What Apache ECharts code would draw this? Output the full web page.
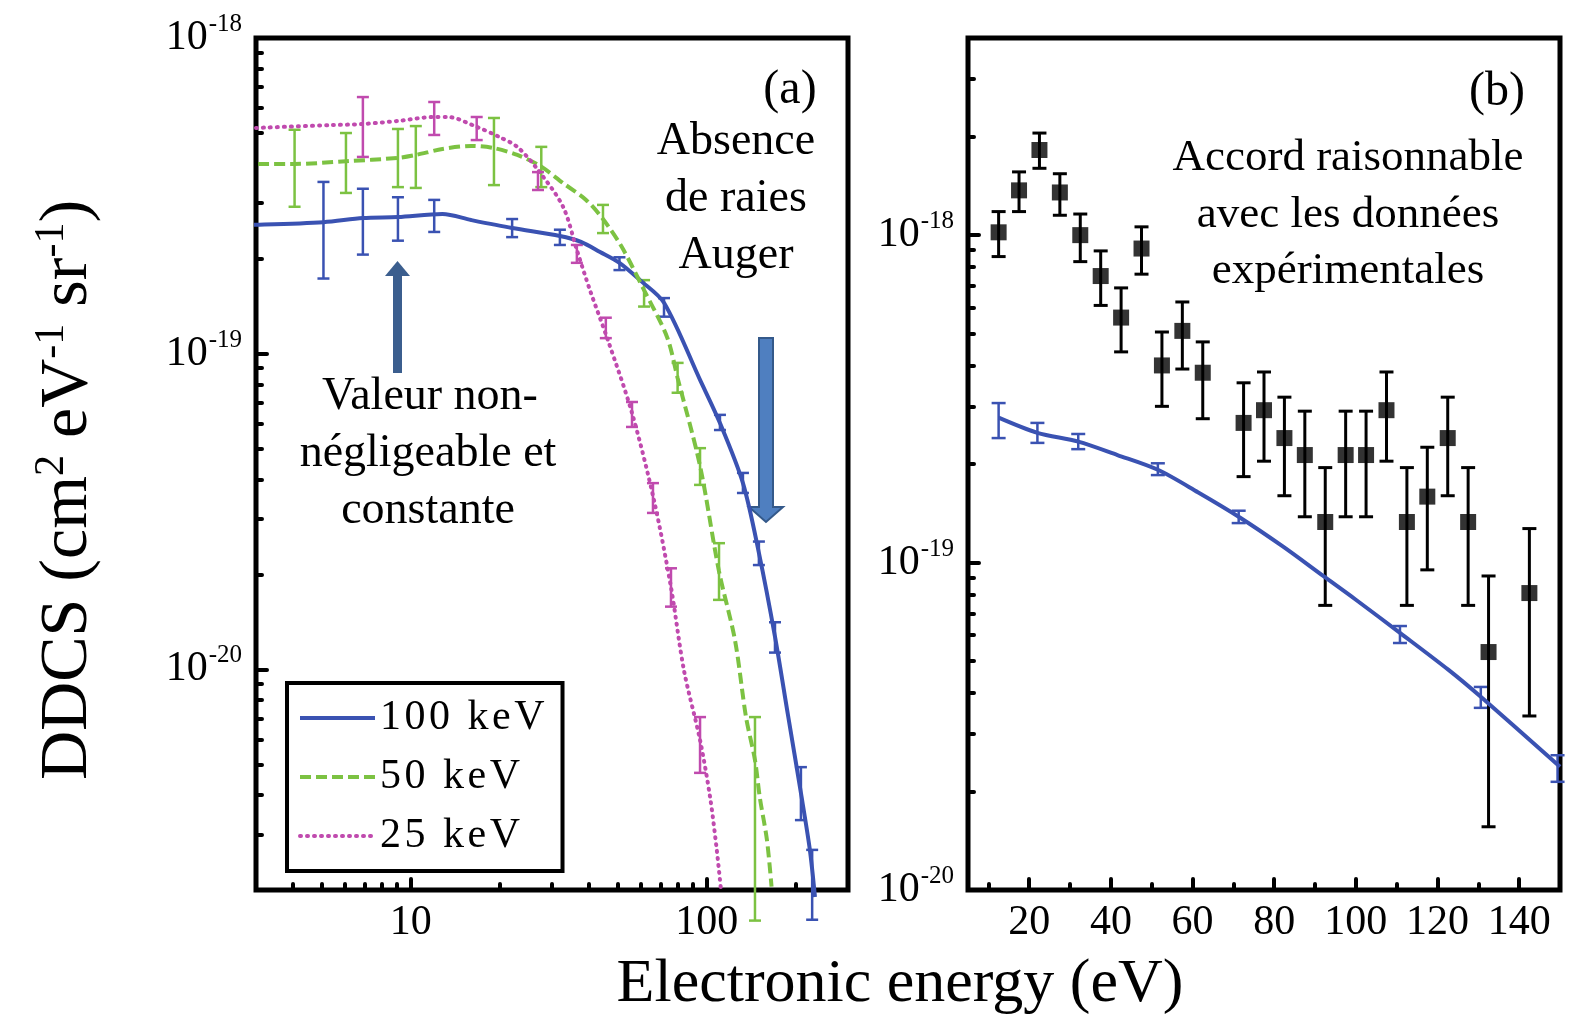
<!DOCTYPE html>
<html><head><meta charset="utf-8">
<script src="https://cdn.jsdelivr.net/npm/echarts@6/dist/echarts.min.js"></script>
<style>html,body{margin:0;padding:0;background:#fff}#c{width:1573px;height:1022px}</style>
</head><body><div id="c"></div><script>
// ---------- Panel (a): theoretical DDCS, log-log ----------
// curves: [electron energy (eV), DDCS (cm2 eV-1 sr-1)]
const curve100 = [[2.02,2.54e-19],[3,2.56e-19],[5.07,2.61e-19],[6.89,2.69e-19],[9.05,2.71e-19],[12.8,2.77e-19],[16,2.65e-19],[22,2.50e-19],[31.9,2.36e-19],[37.6,2.26e-19],[43.6,2.10e-19],[50.7,1.94e-19],[59.5,1.71e-19],[71.7,1.45e-19],[94.9,8.26e-20],[110.8,6.03e-20],[132.5,3.89e-20],[150,2.34e-20],[170,1.27e-20],[188,7.18e-21],[208,4.06e-21],[223,2.68e-21],[232,1.90e-21]];
const curve50 = [[3.05,3.99e-19],[4.05,3.99e-19],[6.04,4.07e-19],[9.05,4.17e-19],[10.4,4.26e-19],[12.8,4.45e-19],[16,4.55e-19],[19.1,4.48e-19],[22.9,4.26e-19],[27.3,3.94e-19],[32.7,3.47e-19],[39.1,3.07e-19],[44.6,2.67e-19],[51.6,2.18e-19],[61.4,1.59e-19],[73.4,1.13e-19],[79.7,8.38e-20],[94.9,4.41e-20],[109.9,2.05e-20],[124.5,1.24e-20],[135.7,7.06e-21],[145.5,5.16e-21],[151,3.94e-21],[159.7,2.88e-21],[165.5,2.05e-21]];
const curve25 = [[3.0,5.19e-19],[5.46,5.30e-19],[6.89,5.34e-19],[9.05,5.46e-19],[12.0,5.62e-19],[13.35,5.62e-19],[16.7,5.23e-19],[19.9,4.86e-19],[22.9,4.52e-19],[26.9,3.82e-19],[32.7,2.92e-19],[36.4,2.13e-19],[40.3,1.59e-19],[46.4,1.10e-19],[55.9,6.49e-20],[66.3,3.44e-20],[75.7,1.82e-20],[83.7,9.95e-21],[94.9,5.97e-21],[102.6,3.94e-21],[107.8,2.74e-21],[111.7,2.0e-21]];
// error bars: [E, low, high]
const err100 = [[5.07,1.73e-19,3.50e-19],[6.89,2.06e-19,3.33e-19],[9.05,2.28e-19,3.13e-19],[12.0,2.43e-19,3.07e-19],[22,2.34e-19,2.67e-19],[31.9,2.21e-19,2.47e-19],[50.7,1.84e-19,2.02e-19],[71.7,1.31e-19,1.50e-19],[110.8,5.73e-20,6.4e-20],[132.5,3.62e-20,4.19e-20],[150,2.14e-20,2.54e-20],[170,1.13e-20,1.41e-20],[208,3.33e-21,4.9e-21],[227,1.61e-21,2.68e-21]];
const err50 = [[4.05,2.92e-19,5.12e-19],[6.04,3.23e-19,5.0e-19],[9.05,3.37e-19,5.15e-19],[10.4,3.35e-19,5.26e-19],[19.1,3.42e-19,5.58e-19],[27.6,3.37e-19,4.52e-19],[44.6,2.41e-19,2.96e-19],[61.4,1.41e-19,1.71e-19],[79.7,7.52e-20,9.35e-20],[94.9,3.84e-20,5.02e-20],[110,1.66e-20,2.51e-20],[145.5,1.6e-21,7.06e-21]];
const err25 = [[6.89,4.2e-19,6.5e-19],[12.0,4.93e-19,6.27e-19],[16.7,4.75e-19,5.62e-19],[26.9,3.30e-19,3.76e-19],[36.4,1.94e-19,2.21e-19],[45.6,1.12e-19,1.30e-19],[55.9,5.86e-20,7.03e-20],[65.8,3.13e-20,3.89e-20],[75.7,1.58e-20,2.09e-20],[94.9,4.7e-21,7.06e-21]];
const seriesNames = ['100 keV','50 keV','25 keV'];

// ---------- Panel (b): 100 keV vs experiment, lin-log ----------
const expE  = [12.5,17.5,22.5,27.5,32.5,37.5,42.5,47.5,52.5,57.5,62.5,72.5,77.5,82.5,87.5,92.5,97.5,102.5,107.5,112.5,117.5,122.5,127.5,132.5,142.5];
const expV  = [1.02e-18,1.37e-18,1.82e-18,1.35e-18,1.0e-18,7.5e-19,5.6e-19,9.1e-19,4.0e-19,5.1e-19,3.8e-19,2.67e-19,2.92e-19,2.40e-19,2.13e-19,1.33e-19,2.13e-19,2.13e-19,2.92e-19,1.33e-19,1.59e-19,2.40e-19,1.33e-19,5.33e-20,8.07e-20];
const expLo = [8.6e-19,1.18e-18,1.6e-18,1.15e-18,8.3e-19,6.1e-19,4.4e-19,7.6e-19,3.0e-19,3.9e-19,2.75e-19,1.83e-19,2.04e-19,1.60e-19,1.38e-19,7.4e-20,1.38e-19,1.38e-19,2.04e-19,7.4e-20,9.5e-20,1.60e-19,7.4e-20,1.56e-20,3.4e-20];
const expHi = [1.18e-18,1.56e-18,2.05e-18,1.54e-18,1.16e-18,8.95e-19,6.9e-19,1.06e-18,5.06e-19,6.25e-19,4.72e-19,3.54e-19,3.82e-19,3.20e-19,2.90e-19,1.95e-19,2.90e-19,2.90e-19,3.82e-19,1.95e-19,2.25e-19,3.20e-19,1.95e-19,9.1e-20,1.27e-19];
const theoB = [[12.5,2.77e-19],[22,2.49e-19],[32,2.34e-19],[41.6,2.13e-19],[51.5,1.92e-19],[61.3,1.64e-19],[71.3,1.38e-19],[82.1,1.12e-19],[92,9.1e-20],[100,7.7e-20],[110.8,6.10e-20],[122.7,4.70e-20],[130.6,3.89e-20],[150,2.38e-20]];
const theoBErr = [[12.5,2.40e-19,3.07e-19],[22,2.32e-19,2.67e-19],[32,2.22e-19,2.47e-19],[51.5,1.85e-19,2.01e-19],[71.3,1.32e-19,1.44e-19],[110.8,5.68e-20,6.40e-20],[130.6,3.60e-20,4.17e-20],[149.4,2.14e-20,2.58e-20]];

// ---------- ticks ----------
const aXMajor = [10, 100];
const aXMinor = [4,5,6,7,8,9,20,30,40,50,60,70,80,90,200];
const aYMajor = [1e-20, 1e-19, 1e-18];
const aYMinor = [3e-21,4e-21,5e-21,6e-21,7e-21,8e-21,9e-21,2e-20,3e-20,4e-20,5e-20,6e-20,7e-20,8e-20,9e-20,2e-19,3e-19,4e-19,5e-19,6e-19,7e-19,8e-19,9e-19];
const bXMajor = [20,40,60,80,100,120,140];
const bXMinor = [10,30,50,70,90,110,130];
const bYMajor = [1e-20, 1e-19, 1e-18];
const bYMinor = [2e-20,3e-20,4e-20,5e-20,6e-20,7e-20,8e-20,9e-20,2e-19,3e-19,4e-19,5e-19,6e-19,7e-19,8e-19,9e-19,2e-18,3e-18];

const SERIF = '"Liberation Serif","Times New Roman",serif';
const C100 = '#3a52b2', C50 = '#7cc242', C25 = '#c04aae';

const chart = echarts.init(document.getElementById('c'), null, {renderer: 'canvas'});

const powRich = {
  b: {fontSize: 42, fontFamily: SERIF, color: '#000', verticalAlign: 'bottom', lineHeight: 42},
  s: {fontSize: 25, fontFamily: SERIF, color: '#000', verticalAlign: 'bottom', lineHeight: 25, padding: [0, 0, 22, 1]}
};
function powLabel(v) { const e = Math.round(Math.log10(v)); return '{b|10}{s|' + e + '}'; }

function xMajor(grid, type, min, max, vals) {
  return {gridIndex: grid, type: type, min: min, max: max, position: 'bottom',
    axisLine: {show: false}, splitLine: {show: false},
    axisTick: {show: true, inside: true, length: 11, customValues: vals, lineStyle: {color: '#000', width: 4, cap: 'round'}},
    axisLabel: {show: true, customValues: vals, margin: 12, color: '#000', fontFamily: SERIF, fontSize: 42,
      formatter: function (v) { return String(Math.round(v)); }}};
}
function xMinor(grid, type, min, max, vals) {
  return {gridIndex: grid, type: type, min: min, max: max, position: 'bottom',
    axisLine: {show: false}, splitLine: {show: false}, axisLabel: {show: false},
    axisTick: {show: true, inside: true, length: 6, customValues: vals, lineStyle: {color: '#000', width: 4, cap: 'round'}}};
}
function yMajor(grid, min, max, vals) {
  return {gridIndex: grid, type: 'log', logBase: 10, min: min, max: max, position: 'left',
    axisLine: {show: false}, splitLine: {show: false},
    axisTick: {show: true, inside: true, length: 11, customValues: vals, lineStyle: {color: '#000', width: 4, cap: 'round'}},
    axisLabel: {show: true, customValues: vals, margin: 14, formatter: powLabel, rich: powRich}};
}
function yMinor(grid, min, max, vals) {
  return {gridIndex: grid, type: 'log', logBase: 10, min: min, max: max, position: 'left',
    axisLine: {show: false}, splitLine: {show: false}, axisLabel: {show: false},
    axisTick: {show: true, inside: true, length: 6, customValues: vals, lineStyle: {color: '#000', width: 4, cap: 'round'}}};
}

function errRender(color, width, half) {
  return function (params, api) {
    const x = api.value(0), lo = api.value(1), hi = api.value(2);
    const a = api.coord([x, lo]), b = api.coord([x, hi]);
    const st = {stroke: color, lineWidth: width};
    return {type: 'group', children: [
      {type: 'line', shape: {x1: a[0], y1: a[1], x2: b[0], y2: b[1]}, style: st},
      {type: 'line', shape: {x1: a[0] - half, y1: a[1], x2: a[0] + half, y2: a[1]}, style: st},
      {type: 'line', shape: {x1: b[0] - half, y1: b[1], x2: b[0] + half, y2: b[1]}, style: st}
    ]};
  };
}
function errSeries(name, data, xi, yi, color, width, half) {
  return {name: name, type: 'custom', xAxisIndex: xi, yAxisIndex: yi, data: data, clip: false,
    renderItem: errRender(color, width, half), encode: {x: 0, y: [1, 2]}, silent: true, z: 3};
}

const expPts = expE.map((e, i) => [e, expV[i]]);
const expErr = expE.map((e, i) => [e, expLo[i], expHi[i]]);

const txt = (x, y, s, size) => ({type: 'text', x: x, y: y, silent: true,
  style: {text: s, fontSize: size || 46, fontFamily: SERIF, fill: '#000',
    align: 'center', verticalAlign: 'middle', textAlign: 'center', textVerticalAlign: 'middle'}});

const option = {
  animation: false,
  backgroundColor: '#fff',
  grid: [
    {left: 256, top: 38, width: 592, height: 852, show: true, borderColor: '#000', borderWidth: 5, backgroundColor: 'transparent', containLabel: false, outerBoundsMode: 'none'},
    {left: 968, top: 38, width: 592, height: 852, show: true, borderColor: '#000', borderWidth: 5, backgroundColor: 'transparent', containLabel: false, outerBoundsMode: 'none'}
  ],
  xAxis: [
    xMajor(0, 'log', 3, 300, aXMajor),
    xMinor(0, 'log', 3, 300, aXMinor),
    xMajor(1, 'value', 5, 150, bXMajor),
    xMinor(1, 'value', 5, 150, bXMinor)
  ],
  yAxis: [
    yMajor(0, 2e-21, 1e-18, aYMajor),
    yMinor(0, 2e-21, 1e-18, aYMinor),
    yMajor(1, 1e-20, 4e-18, bYMajor),
    yMinor(1, 1e-20, 4e-18, bYMinor)
  ],
  legend: {
    data: seriesNames, orient: 'vertical', left: 287, top: 683,
    padding: [14, 18, 14, 11], itemGap: 17, itemWidth: 75, itemHeight: 16,
    borderColor: '#000', borderWidth: 4, backgroundColor: '#fff', selectedMode: false,
    itemStyle: {opacity: 0, borderWidth: 0},
    lineStyle: {width: 4},
    formatter: function (n) { return n.split('').join('\u200A'); },
    textStyle: {fontFamily: SERIF, fontSize: 42, color: '#000', lineHeight: 40}
  },
  series: [
    {name: '100 keV', type: 'line', xAxisIndex: 0, yAxisIndex: 0, data: curve100, symbol: 'none', smooth: 0.3, clip: false,
      lineStyle: {color: C100, width: 4}, itemStyle: {color: C100}, z: 4},
    {name: '50 keV', type: 'line', xAxisIndex: 0, yAxisIndex: 0, data: curve50, symbol: 'none', smooth: 0.3, clip: true,
      lineStyle: {color: C50, width: 4, type: [11, 5]}, itemStyle: {color: C50}, z: 4},
    {name: '25 keV', type: 'line', xAxisIndex: 0, yAxisIndex: 0, data: curve25, symbol: 'none', smooth: 0.3, clip: true,
      lineStyle: {color: C25, width: 4, type: [1, 6], cap: 'round'}, itemStyle: {color: C25}, z: 4},
    errSeries('err100', err100, 0, 0, C100, 2.5, 6),
    errSeries('err50', err50, 0, 0, C50, 2.5, 6),
    errSeries('err25', err25, 0, 0, C25, 2.5, 6),
    {name: 'theoB', type: 'line', xAxisIndex: 2, yAxisIndex: 2, data: theoB, symbol: 'none', smooth: 0.3,
      lineStyle: {color: C100, width: 4}, z: 4},
    errSeries('theoBErr', theoBErr, 2, 2, C100, 2.5, 7),
    errSeries('expErr', expErr, 2, 2, '#000', 3, 7),
    {name: 'exp', type: 'scatter', xAxisIndex: 2, yAxisIndex: 2, data: expPts, symbol: 'rect', symbolSize: 16,
      itemStyle: {color: '#000'}, z: 5}
  ],
  graphic: [
    txt(790, 90, '(a)', 48),
    txt(736, 142, 'Absence'), txt(736, 199, 'de raies'), txt(736, 256, 'Auger'),
    txt(430, 397, 'Valeur non-'), txt(428, 454, 'négligeable et'), txt(428, 511, 'constante'),
    txt(1497, 92, '(b)', 48),
    txt(1348, 158, 'Accord raisonnable', 45), txt(1348, 215, 'avec les données', 45), txt(1348, 271, 'expérimentales', 45),
    txt(900, 985, 'Electronic energy (eV)', 62),
    {type: 'text', x: 68, y: 490, rotation: Math.PI / 2, silent: true,
      style: {text: 'DDCS (cm{s|2} eV{s|-1} sr{s|-1})', fontSize: 68, fontFamily: SERIF, fill: '#000',
        align: 'center', verticalAlign: 'middle', textAlign: 'center', textVerticalAlign: 'middle',
        rich: {s: {fontSize: 42, fontFamily: SERIF, fill: '#000', color: '#000', verticalAlign: 'bottom', padding: [0, 0, 32, 0]}}}},
    // up arrow (panel a)
    {type: 'rect', shape: {x: 393, y: 272, width: 9, height: 101}, style: {fill: '#3b5e8e'}, silent: true},
    {type: 'polygon', shape: {points: [[385, 276], [410, 276], [397.5, 261]]}, style: {fill: '#3b5e8e'}, silent: true},
    // down arrow (panel a)
    {type: 'polygon', shape: {points: [[759, 338], [773, 338], [773, 507], [783, 507], [766, 522], [749, 507], [759, 507]]},
      style: {fill: '#4f7fc0', stroke: '#34598a', lineWidth: 2}, silent: true}
  ]
};
chart.setOption(option);
</script></body></html>
